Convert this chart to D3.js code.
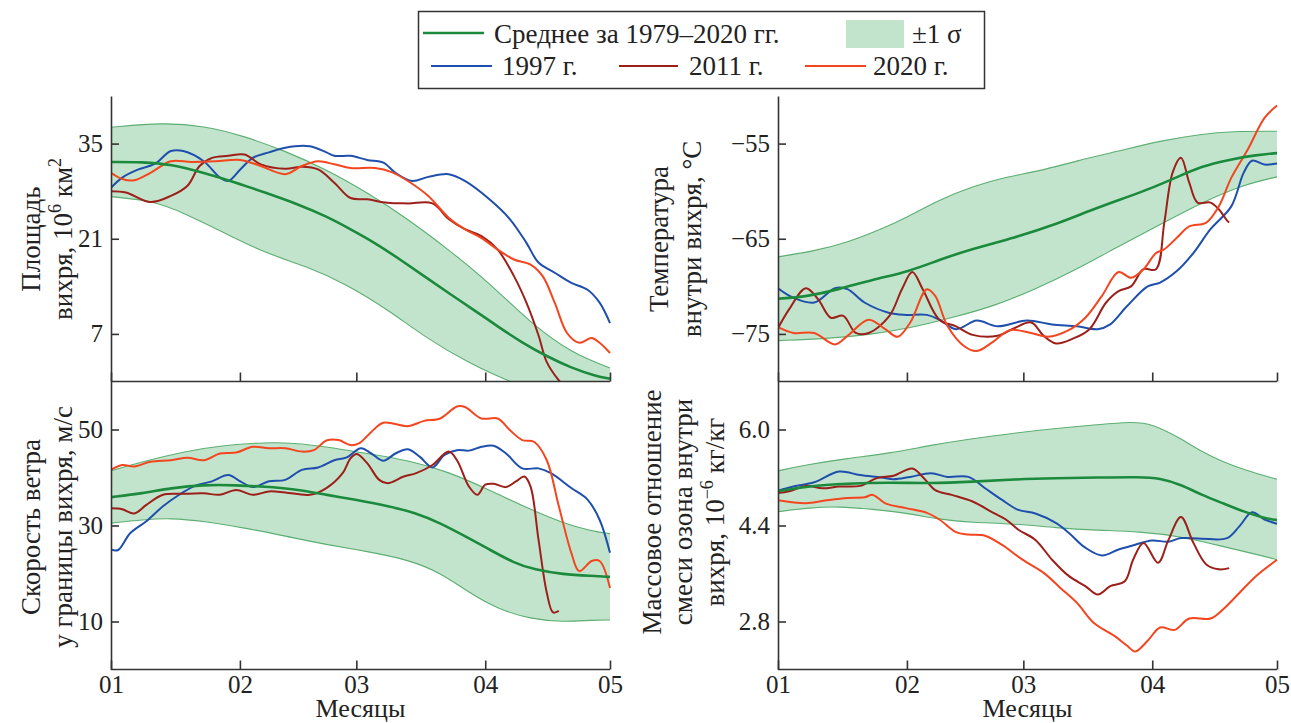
<!DOCTYPE html>
<html lang="ru">
<head>
<meta charset="UTF-8">
<title>Полярный вихрь 1997, 2011, 2020</title>
<script src="https://cdn.jsdelivr.net/npm/d3@7"></script>
<style>
  body { margin: 0; background: #fff; }
  .axis path, .axis line { stroke: #333; stroke-width: 1.6; fill: none; }
</style>
</head>
<body>
<svg id="chart" width="1291" height="723" font-family="Liberation Serif"></svg>
<script>
// x: days since 1 January
const monthTicks = [0, 31, 59, 90, 120];
const monthLabels = ["01", "02", "03", "04", "05"];

// Площадь вихря, 10^6 км^2
const areaTicks = [7, 21, 35];
const areaMean = [[0,32.3],[7.6,32.3],[14.4,31.95],[22.3,30.7],[30.2,29.25],[37,27.8],[44.9,26.1],[51.8,24.3],[57.6,22.4],[63.5,20.4],[69.4,18.0],[75.3,15.5],[81.2,13.0],[87.1,10.6],[93,8.1],[98.9,5.7],[104.8,3.7],[110.7,2.0],[116.6,0.8],[120,0.4]];
const areaHi = [[0,37.4],[12.5,38.1],[22.3,37.6],[32.1,36.1],[41.9,33.9],[51.8,31.2],[61.6,27.8],[71.4,23.9],[81.2,19.4],[91,14.5],[100.9,8.6],[110.7,4.2],[120,2.0]];
const areaLo = [[0,27.2],[10.5,26.55],[17.4,24.8],[27.2,21.9],[37,18.9],[46.8,17.0],[56.7,14.3],[66.5,10.6],[76.3,6.2],[86.1,2.7],[95.9,-0.1],[105.8,-2],[120,-3]];
const area1997 = [[0,28.5],[2.7,30],[6.6,31.2],[10.5,32],[14.4,33.9],[17.4,33.9],[22.3,32.4],[26.2,30],[28.2,29.5],[31.1,31.2],[34.1,32.9],[38,33.7],[41.9,34.4],[47.8,34.6],[51.8,33.7],[53.7,33.2],[57.6,33.2],[61.6,32.6],[65.5,32.2],[68.4,30.7],[72.4,29.5],[76.3,30.1],[81.2,30.5],[85.1,29.5],[91,26.8],[95.9,23.9],[99.9,20.4],[102.8,17.5],[106.7,16.0],[110.7,14.5],[114.6,13.5],[117.5,11.6],[120,8.6]];
const area2011 = [[0,28.0],[3.6,27.8],[9.5,26.4],[14.4,27.3],[18.4,28.8],[21.3,31.7],[24.3,32.9],[28.2,33.2],[32.1,33.4],[36,31.95],[41.9,31.3],[45.9,31.6],[49.8,31.2],[53.7,29.25],[57.6,27.0],[61.6,26.8],[66.5,26.3],[71.4,26.2],[77.3,26.2],[81.2,23.9],[85.1,22.4],[89.1,21.4],[93,19.4],[96.9,15.5],[99.9,11.6],[102.8,6.8],[104.8,2.85],[107.7,0.15],[108.7,-0.5]];
const area2020 = [[0,30.7],[2.7,29.8],[5.6,29.6],[9.5,30.7],[14.4,32.4],[19.3,32.3],[25.2,32.4],[31.1,32.6],[36,31.7],[41.9,30.5],[45.9,31.7],[49.8,32.4],[53.7,31.95],[57.6,31.4],[63.5,31.4],[67.5,30.8],[71.4,29.5],[76.3,27.3],[81.2,24.1],[85.1,22.4],[89.1,21.1],[93,19.4],[96.9,17.95],[100.9,17.2],[103.8,15.5],[106.7,11.6],[109.7,7.1],[112.6,5.7],[115.6,6.4],[117.5,5.7],[120,4.2]];

// Температура внутри вихря, °C
const tempTicks = [-75, -65, -55];
const tempMean = [[0,-71.3],[6.7,-71.1],[14.7,-70.3],[22.8,-69.3],[31.8,-68.4],[38.8,-67.2],[46.8,-66.05],[56.8,-64.9],[66.9,-63.5],[76.9,-61.7],[86.9,-60.2],[94.9,-58.75],[101.9,-57.35],[109,-56.65],[115,-56.2],[120,-56.0]];
const tempHi = [[0,-66.9],[8.7,-66.3],[16.7,-65.4],[24.8,-64.0],[30.8,-62.8],[38.8,-60.9],[46.8,-59.5],[54.8,-58.5],[62.9,-57.9],[71.9,-56.8],[81.9,-55.8],[91.9,-54.7],[101.9,-54.0],[109,-53.7],[120,-53.7]];
const tempLo = [[0,-75.7],[11.7,-75.5],[21.8,-75.1],[31.8,-74.4],[41.8,-73.3],[51.8,-72.1],[61.9,-70.3],[71.9,-68.2],[81.9,-65.8],[91.9,-63.5],[101.9,-61.2],[112,-59.3],[120,-58.5]];
const temp1997 = [[0,-70.2],[3.7,-71.2],[8.7,-71.7],[13.7,-70.2],[16.7,-70.3],[20.8,-71.7],[26.8,-72.8],[30.8,-73.0],[35.8,-73.0],[38.8,-73.5],[42.8,-74.5],[47.8,-73.6],[52.8,-74.2],[59.8,-73.6],[65.9,-74.0],[71.9,-74.2],[76.9,-74.5],[79.9,-74.0],[83.9,-72.1],[88.9,-70.0],[91.9,-69.6],[95.9,-68.4],[99.9,-66.5],[104,-64.0],[109,-61.6],[112,-58.05],[114,-56.8],[117,-57.2],[120,-57.1]];
const temp2011 = [[0,-74.4],[2.7,-72.4],[6.7,-70.2],[9.7,-71.4],[12.7,-73.3],[15.7,-73.1],[18.7,-74.9],[21.8,-74.9],[26.8,-73.1],[29.8,-70.3],[32.3,-68.5],[34.8,-70.3],[38.8,-73.5],[42.8,-74.2],[46.8,-75.1],[52.8,-75.2],[56.8,-74.4],[60.9,-73.8],[63.9,-75.2],[66.9,-76.0],[70.9,-75.5],[74.9,-74.5],[78.9,-71.7],[81.9,-70.5],[84.9,-70.0],[87.9,-68.2],[90.9,-68.2],[92.9,-63.3],[94.9,-58.05],[96.9,-56.5],[98.9,-59.1],[100.9,-61.2],[104,-61.2],[106,-61.9],[108,-63.1],[108.5,-63.3]];
const temp2020 = [[0,-74.3],[3.7,-74.9],[8.7,-74.9],[13.7,-76.1],[16.7,-75.2],[21.8,-73.5],[25.8,-74.5],[28.8,-75.3],[31.8,-73.8],[35.8,-70.3],[37.8,-71.0],[40.8,-74.2],[44.8,-76.3],[47.8,-76.8],[51.8,-75.8],[55.8,-74.6],[60.9,-74.9],[64.9,-75.3],[69.9,-74.6],[73.9,-73.3],[77.9,-71.0],[81.9,-68.5],[84.9,-69.1],[87.9,-68.2],[90.9,-66.5],[92.9,-66.1],[95.9,-64.9],[98.9,-63.7],[103,-63.3],[106,-61.6],[109,-58.6],[113,-55.6],[117,-52.3],[120,-51.0]];

// Скорость ветра у границы вихря, м/с
const windTicks = [10, 30, 50];
const windMean = [[0,35.9],[7.6,36.7],[14.4,37.8],[22.3,38.5],[30.1,38.4],[37,38.1],[43.9,37.6],[51.8,36.4],[58.6,35.4],[66.5,34.1],[73.4,32.6],[79.2,30.5],[85.1,27.8],[91,25.0],[96.9,22.2],[101.8,20.8],[108.7,19.8],[115.6,19.5],[120,19.3]];
const windHi = [[0,41.4],[7.6,43.3],[17.4,45.4],[27.2,46.75],[37,47.3],[43.9,47.2],[51.8,46.4],[61.6,45.0],[71.4,43.6],[81.2,41.2],[91,37.4],[100.9,33.3],[108.7,30.5],[115.6,28.8],[120,28.3]];
const windLo = [[0,30.5],[7.6,31.2],[14.4,31.55],[22.3,30.9],[32.1,29.5],[41.9,27.8],[51.8,26.0],[61.6,24.6],[71.4,22.9],[79.2,20.2],[86.1,16.0],[93,12.6],[100.9,10.5],[108.7,9.9],[115.6,10.3],[120,10.3]];
const wind1997 = [[0,25.0],[1.7,24.9],[4.6,28.4],[8.5,30.9],[12.5,34.0],[16.4,36.4],[20.3,38.3],[24.3,39.2],[28.2,40.5],[31.1,39.2],[34.1,38.0],[38,39.2],[41.9,39.5],[45.9,41.6],[49.8,42.1],[53.7,43.6],[56.7,44.2],[60.1,46.1],[62.6,45.0],[65.5,43.5],[68.4,45.0],[71.4,45.9],[74.3,44.3],[77.3,42.1],[80.2,44.7],[83.2,45.7],[86.1,45.6],[89.1,46.4],[92,46.6],[95,45.0],[98.9,41.9],[102.8,41.9],[105.8,40.9],[110.7,37.8],[114.6,35.4],[117.5,31.2],[120,24.3]];
const wind2011 = [[0,33.6],[2.7,33.4],[5.6,32.5],[8.5,34.3],[12.5,36.4],[17.4,36.6],[22.3,36.7],[26.2,36.4],[30.1,37.4],[34.1,36.4],[38,37.1],[41.9,36.9],[47.8,36.4],[51.8,37.8],[55.7,40.9],[57.6,44.0],[59.1,44.9],[61.6,43.0],[64.5,39.5],[66.5,38.8],[70.4,40.2],[73.4,40.9],[77.3,42.6],[81.2,45.4],[83.2,43.6],[86.1,38.1],[88.1,36.4],[90,38.5],[92,38.7],[95,38.0],[97.4,39.2],[99.4,40.2],[100.9,38.1],[102.8,27.1],[104.8,16.0],[106.3,11.9],[107.7,12.2]];
const wind2020 = [[0,41.6],[2.7,42.6],[5.6,42.3],[9.5,43.3],[14.4,43.6],[18.4,44.1],[22.3,43.6],[26.2,45.0],[30.1,45.2],[34.1,46.4],[38,46.1],[41.9,46.1],[45.9,45.4],[48.8,45.7],[51.8,47.7],[54.7,47.8],[57.6,46.75],[59.6,47.1],[62.6,49.5],[65.5,51.4],[71.4,50.7],[75.3,51.8],[79.2,52.3],[83.2,54.8],[85.1,54.7],[89.1,52.3],[93,52.3],[95.9,49.9],[98.9,47.8],[101.8,47.4],[104.8,43.6],[107.7,34.0],[110.7,24.3],[112.6,20.5],[115.6,22.6],[117.5,22.6],[120,17.0]];

// Массовое отношение смеси озона, 10^-6 кг/кг
const ozoneTicks = [2.8, 4.4, 6.0];
const ozoneMean = [[0,4.97],[6.7,5.05],[16.7,5.10],[26.8,5.12],[36.8,5.10],[46.8,5.13],[56.8,5.17],[66.9,5.19],[76.9,5.20],[86.9,5.21],[91.9,5.19],[96.9,5.08],[101.9,4.91],[107,4.77],[112,4.63],[117,4.52],[120,4.49]];
const ozoneHi = [[0,5.31],[6.7,5.41],[16.7,5.52],[26.8,5.60],[36.8,5.74],[46.8,5.85],[56.8,5.94],[66.9,6.02],[76.9,6.08],[84.9,6.13],[89.9,6.10],[96.9,5.85],[101.9,5.63],[107,5.46],[112,5.33],[120,5.17]];
const ozoneLo = [[0,4.63],[6.7,4.69],[14.7,4.72],[22.8,4.67],[30.8,4.61],[38.8,4.50],[46.8,4.45],[56.8,4.43],[66.9,4.36],[76.9,4.32],[86.9,4.30],[96.9,4.22],[107,4.05],[115,3.92],[120,3.83]];
const ozone1997 = [[0,4.98],[3.7,5.05],[8.7,5.12],[14.7,5.30],[19.7,5.24],[24.8,5.20],[27.8,5.17],[31.8,5.21],[36.8,5.27],[40.8,5.21],[45.8,5.21],[49.8,5.02],[53.8,4.83],[57.8,4.66],[61.9,4.60],[66.9,4.44],[69.9,4.28],[73.9,4.03],[77.9,3.90],[81.9,4.0],[85.9,4.08],[89.9,4.15],[93.9,4.13],[96.9,4.19],[101.9,4.18],[108,4.19],[111,4.39],[114,4.62],[117,4.50],[120,4.43]];
const ozone2011 = [[0,4.94],[2.7,4.97],[6.7,5.06],[10.7,5.02],[14.7,5.05],[19.7,5.06],[23.8,5.19],[27.8,5.23],[32.3,5.35],[34.8,5.21],[37.8,4.99],[41.8,4.91],[46.8,4.80],[51.8,4.61],[54.8,4.50],[57.8,4.33],[61.9,4.16],[65.9,3.83],[69.9,3.56],[73.9,3.39],[76.9,3.25],[79.9,3.39],[83.4,3.47],[85.4,3.83],[87.9,4.11],[91.4,3.78],[93.9,4.16],[96.9,4.54],[99.9,4.11],[103,3.75],[106,3.67],[108.5,3.69]];
const ozone2020 = [[0,4.82],[6.7,4.77],[11.7,4.82],[16.7,4.86],[20.8,4.87],[22.8,4.91],[25.8,4.77],[30.8,4.69],[35.8,4.61],[38.8,4.50],[42.8,4.29],[45.8,4.25],[49.8,4.23],[53.8,4.08],[58.8,3.83],[63.9,3.61],[67.9,3.36],[71.9,3.11],[75.9,2.78],[80.9,2.56],[83.9,2.40],[85.9,2.30],[88.9,2.48],[91.9,2.70],[95.4,2.66],[98.9,2.85],[104,2.85],[107,3.0],[111,3.28],[115,3.56],[120,3.83]];

const colors = { mean: "#1b8a3c", band: "#c3e4cc", bandEdge: "#5cae72", y1997: "#1f4fad", y2011: "#9c1f1a", y2020: "#f3461f" };
const font = "Liberation Serif";
const tickSize = 25;
const labelSize = 27;

const svg = d3.select("#chart");

const cols = { left: [111, 610], right: [778, 1277] };
const rows = { top: [96, 381.5], bottom: [381.5, 669.5] };

const panels = [
  { id: "area", col: "left", row: "top", domain: [0, 42], ticks: areaTicks, fmt: d => d,
    mean: areaMean, hi: areaHi, lo: areaLo, s1997: area1997, s2011: area2011, s2020: area2020,
    title: [[["Площадь"]], [["вихря, 10"], ["6", true], [" км"], ["2", true]]], titleX: [40, 72], titleY: 239 },
  { id: "temp", col: "right", row: "top", domain: [-80, -50], ticks: tempTicks, fmt: d => "\u2212" + Math.abs(d),
    mean: tempMean, hi: tempHi, lo: tempLo, s1997: temp1997, s2011: temp2011, s2020: temp2020,
    title: [[["Температура"]], [["внутри вихря, °С"]]], titleX: [668, 701], titleY: 239 },
  { id: "wind", col: "left", row: "bottom", domain: [0, 60], ticks: windTicks, fmt: d => d,
    mean: windMean, hi: windHi, lo: windLo, s1997: wind1997, s2011: wind2011, s2020: wind2020,
    title: [[["Скорость ветра"]], [["у границы вихря, м/с"]]], titleX: [40, 72], titleY: 527 },
  { id: "ozone", col: "right", row: "bottom", domain: [2.0, 6.8], ticks: ozoneTicks, fmt: d3.format(".1f"),
    mean: ozoneMean, hi: ozoneHi, lo: ozoneLo, s1997: ozone1997, s2011: ozone2011, s2020: ozone2020,
    title: [[["Массовое отношение"]], [["смеси озона внутри"]], [["вихря, 10"], ["\u22126", true], [" кг/кг"]]], titleX: [661, 692, 724], titleY: 512 }
];

panels.forEach(p => {
  const [xl, xr] = cols[p.col];
  const [yt, yb] = rows[p.row];
  const x = d3.scaleLinear().domain([0, 120]).range([xl, xr]);
  const y = d3.scaleLinear().domain(p.domain).range([yb, yt]);

  svg.append("clipPath").attr("id", "clip-" + p.id)
    .append("rect").attr("x", xl).attr("y", yt).attr("width", xr - xl + 2).attr("height", yb - yt);

  const g = svg.append("g").attr("clip-path", `url(#clip-${p.id})`);

  const lineBand = d3.line().x(d => x(d[0])).y(d => y(d[1])).curve(d3.curveBasis);
  const upper = lineBand(p.hi);
  const lower = lineBand(p.lo.slice().reverse());
  g.append("path").attr("d", upper + lower.replace(/^M/, "L") + "Z")
    .attr("fill", colors.band).attr("stroke", "none");
  g.append("path").attr("d", upper).attr("fill", "none").attr("stroke", colors.bandEdge).attr("stroke-width", 1.1);
  g.append("path").attr("d", lineBand(p.lo)).attr("fill", "none").attr("stroke", colors.bandEdge).attr("stroke-width", 1.1);

  const lineYear = d3.line().x(d => x(d[0])).y(d => y(d[1])).curve(d3.curveCatmullRom.alpha(0.5));
  [["s1997", colors.y1997], ["s2011", colors.y2011], ["s2020", colors.y2020]].forEach(([k, c]) => {
    g.append("path").attr("d", lineYear(p[k])).attr("fill", "none").attr("stroke", c)
      .attr("stroke-width", 2).attr("stroke-linejoin", "round");
  });
  g.append("path").attr("d", lineBand(p.mean)).attr("fill", "none").attr("stroke", colors.mean).attr("stroke-width", 2.6);

  // axes, ticks point inside
  const yAxis = svg.append("g").attr("class", "axis").attr("transform", `translate(${xl},0)`)
    .call(d3.axisLeft(y).tickValues(p.ticks).tickFormat(p.fmt).tickSizeInner(-8).tickSizeOuter(0).tickPadding(8));
  const xAxis = svg.append("g").attr("class", "axis").attr("transform", `translate(0,${yb})`)
    .call(d3.axisBottom(x).tickValues(monthTicks).tickSizeInner(-9).tickSizeOuter(0).tickPadding(6)
      .tickFormat((d, i) => p.row === "bottom" ? monthLabels[i] : ""));
  [yAxis, xAxis].forEach(a => {
    a.attr("font-family", font).attr("font-size", tickSize);
    a.selectAll("text").attr("fill", "#222");
  });
  xAxis.select(".domain").attr("d", `M${xl},0H${xr}`);

  if (p.row === "bottom") {
    svg.append("text").attr("x", (xl + xr) / 2).attr("y", 717).attr("text-anchor", "middle")
      .attr("font-family", font).attr("font-size", 26).attr("fill", "#222").text("Месяцы");
  }

  // y title, rotated
  p.title.forEach((parts, i) => {
    const t = svg.append("text").attr("transform", `translate(${p.titleX[i]},${p.titleY}) rotate(-90)`)
      .attr("text-anchor", "middle").attr("font-family", font).attr("font-size", labelSize).attr("fill", "#222");
    let shifted = false;
    parts.forEach(([s, sup]) => {
      const ts = t.append("tspan").text(s);
      if (sup) { ts.attr("font-size", 18).attr("dy", -11); shifted = true; }
      else if (shifted) { ts.attr("dy", 11); shifted = false; }
    });
  });
});

// legend
const lg = svg.append("g").attr("font-family", font).attr("font-size", labelSize);
lg.append("rect").attr("x", 418.5).attr("y", 11.5).attr("width", 566).attr("height", 77)
  .attr("fill", "#fff").attr("stroke", "#333").attr("stroke-width", 1.5);
const legendLines = [
  { x1: 423, x2: 484, y: 33, color: colors.mean, w: 2.6, label: "Среднее за 1979\u20132020 гг.", tx: 494, ty: 43 },
  { x1: 431, x2: 492, y: 66, color: colors.y1997, w: 2, label: "1997 г.", tx: 502, ty: 75 },
  { x1: 619, x2: 678, y: 66, color: colors.y2011, w: 2, label: "2011 г.", tx: 689, ty: 75 },
  { x1: 805, x2: 866, y: 66, color: colors.y2020, w: 2, label: "2020 г.", tx: 873, ty: 75 }
];
legendLines.forEach(l => {
  lg.append("line").attr("x1", l.x1).attr("x2", l.x2).attr("y1", l.y).attr("y2", l.y)
    .attr("stroke", l.color).attr("stroke-width", l.w);
  lg.append("text").attr("x", l.tx).attr("y", l.ty).attr("fill", "#222").text(l.label);
});
lg.append("rect").attr("x", 846).attr("y", 20).attr("width", 58).attr("height", 28).attr("fill", colors.band);
lg.append("text").attr("x", 912).attr("y", 43).attr("fill", "#222").text("\u00b11 \u03c3");
</script>
</body>
</html>
